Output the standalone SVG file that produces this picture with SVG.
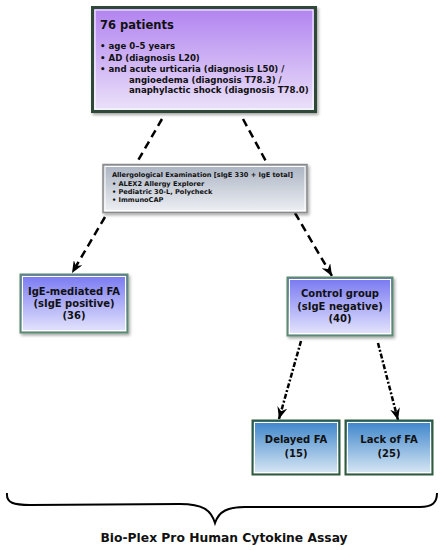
<svg xmlns="http://www.w3.org/2000/svg" width="447" height="550" viewBox="0 0 447 550">
<defs>
<linearGradient id="gPurple" x1="0" y1="0" x2="0" y2="1"><stop offset="0" stop-color="#b182f0"/><stop offset="1" stop-color="#ebe2f9"/></linearGradient>
<linearGradient id="gGray" x1="0" y1="0" x2="0" y2="1"><stop offset="0" stop-color="#aab3c2"/><stop offset="1" stop-color="#eef0f4"/></linearGradient>
<linearGradient id="gBlue" x1="0" y1="0" x2="0" y2="1"><stop offset="0" stop-color="#7777f2"/><stop offset="1" stop-color="#e6e6fd"/></linearGradient>
<linearGradient id="gSky" x1="0" y1="0" x2="0" y2="1"><stop offset="0" stop-color="#3a83ca"/><stop offset="1" stop-color="#dbe9f5"/></linearGradient>
<filter id="sh" x="-10%" y="-10%" width="120%" height="130%"><feDropShadow dx="1.5" dy="2" stdDeviation="1.5" flood-color="#000" flood-opacity="0.35"/></filter>
<marker id="ah" viewBox="0 0 12 10" refX="12" refY="5" markerWidth="12" markerHeight="10" markerUnits="userSpaceOnUse" orient="auto"><path d="M0,0 L12,5 L0,10 L4,5 z" fill="#000"/></marker>
</defs>
<style>
text{font-family:"DejaVu Sans",Verdana,sans-serif;font-weight:bold;fill:#111;}
.dash{stroke:#000;stroke-width:2.5;fill:none;stroke-dasharray:8 5;}
.dd{stroke:#000;stroke-width:2.5;fill:none;stroke-dasharray:5 2 2 2;}
.inner{fill:none;stroke:#fff;stroke-width:1;}
.c{text-anchor:middle;font-size:10px;}
</style>
<g id="connectors">
<line class="dash" x1="162" y1="119" x2="136" y2="164"/>
<line class="dash" x1="243" y1="119" x2="268" y2="165"/>
<line class="dash" x1="105" y1="217" x2="72" y2="273" marker-end="url(#ah)"/>
<line class="dash" x1="295" y1="213" x2="332" y2="276" marker-end="url(#ah)"/>
<line class="dd" x1="301" y1="341" x2="279" y2="419" marker-end="url(#ah)"/>
<line class="dd" x1="378" y1="343" x2="398" y2="420" marker-end="url(#ah)"/>
</g>
<g id="patients">
<rect x="92.5" y="7.5" width="223" height="104" fill="url(#gPurple)" stroke="#2d4a37" stroke-width="3" filter="url(#sh)"/>
<rect x="95" y="10" width="218" height="99" class="inner"/>
<text x="100" y="29" font-size="11.5">76 patients</text>
<g font-size="8.6">
<text x="100" y="49">• age 0–5 years</text>
<text x="100" y="61">• AD (diagnosis L20)</text>
<text x="100" y="72">• and acute urticaria (diagnosis L50) /</text>
<text x="129" y="82.5">angioedema (diagnosis T78.3) /</text>
<text x="129" y="93">anaphylactic shock (diagnosis T78.0)</text>
</g>
</g>
<g id="exam">
<rect x="103" y="164.5" width="204" height="48" fill="url(#gGray)" stroke="#8a8a8a" stroke-width="1.5" filter="url(#sh)"/>
<rect x="105" y="166.5" width="200" height="44" class="inner"/>
<g font-size="6.6">
<text x="112" y="177">Allergological Examination [sIgE 330 + IgE total]</text>
<text x="112" y="185.5">• ALEX2 Allergy Explorer</text>
<text x="112" y="193.5">• Pediatric 30-L, Polycheck</text>
<text x="112" y="202">• ImmunoCAP</text>
</g>
</g>
<g id="ige">
<rect x="20.5" y="274.5" width="107" height="58" fill="url(#gBlue)" stroke="#5b8a72" stroke-width="2" filter="url(#sh)"/>
<rect x="22.5" y="276.5" width="103" height="54" class="inner"/>
<text class="c" x="74" y="295">IgE-mediated FA</text>
<text class="c" x="74" y="307">(sIgE positive)</text>
<text class="c" x="74" y="319">(36)</text>
</g>
<g id="control">
<rect x="287.5" y="277.5" width="105" height="58" fill="url(#gBlue)" stroke="#5b8a72" stroke-width="2" filter="url(#sh)"/>
<rect x="289.5" y="279.5" width="101" height="54" class="inner"/>
<text class="c" x="340" y="297">Control group</text>
<text class="c" x="340" y="309.5">(sIgE negative)</text>
<text class="c" x="340" y="322">(40)</text>
</g>
<g id="delayed">
<rect x="252.5" y="420.5" width="87" height="54" fill="url(#gSky)" stroke="#2f5a3c" stroke-width="2"/>
<rect x="254.5" y="422.5" width="83" height="50" class="inner"/>
<text class="c" x="296" y="443">Delayed FA</text>
<text class="c" x="296" y="457">(15)</text>
</g>
<g id="lack">
<rect x="345.5" y="420.5" width="87" height="54" fill="url(#gSky)" stroke="#2f5a3c" stroke-width="2"/>
<rect x="347.5" y="422.5" width="83" height="50" class="inner"/>
<text class="c" x="389" y="443">Lack of FA</text>
<text class="c" x="389" y="457">(25)</text>
</g>
<g id="assay">
<path d="M7,493 C6,503 14,505 30,505 L180,504 C203,504 211,510 215,523 C219,511 228,507 245,507 L420,507 C432,507 437,503 437,493" fill="none" stroke="#000" stroke-width="2"/>
<text x="224" y="542" text-anchor="middle" font-size="12.3">Bio-Plex Pro Human Cytokine Assay</text>
</g>
</svg>
